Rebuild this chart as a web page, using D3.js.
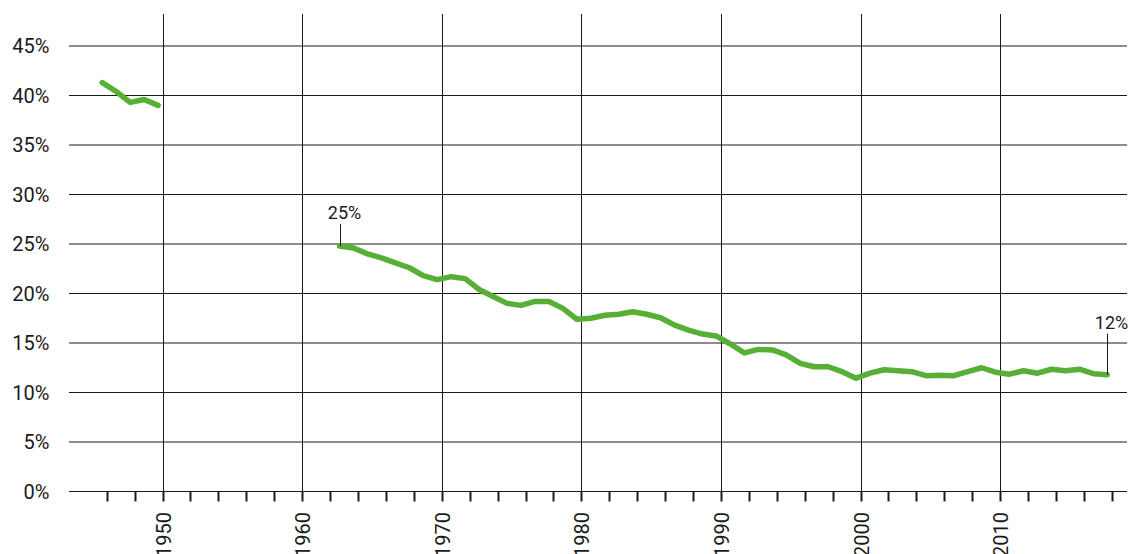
<!DOCTYPE html>
<html>
<head>
<meta charset="utf-8">
<script src="https://cdn.jsdelivr.net/npm/d3@7"></script>
<style>
  html, body { margin: 0; padding: 0; background: #fff; }
  svg { display: block; font-family: Roboto, "Noto Sans", sans-serif; }
</style>
</head>
<body>
<svg id="chart" width="1132" height="554"></svg>
<script>
// ---- data ----
const years1 = [1946, 1947, 1948, 1949, 1950];
const values1 = [41.3, 40.4, 39.3, 39.6, 39.0];

const years2 = [1963, 1964, 1965, 1966, 1967, 1968, 1969, 1970, 1971, 1972,
                1973, 1974, 1975, 1976, 1977, 1978, 1979, 1980, 1981, 1982,
                1983, 1984, 1985, 1986, 1987, 1988, 1989, 1990, 1991, 1992,
                1993, 1994, 1995, 1996, 1997, 1998, 1999, 2000, 2001, 2002,
                2003, 2004, 2005, 2006, 2007, 2008, 2009, 2010, 2011, 2012,
                2013, 2014, 2015, 2016, 2017, 2018];
const values2 = [24.8, 24.6, 24.0, 23.6, 23.1, 22.6, 21.8, 21.4, 21.7, 21.5,
                 20.4, 19.7, 19.0, 18.8, 19.2, 19.2, 18.5, 17.4, 17.5, 17.8,
                 17.9, 18.15, 17.9, 17.55, 16.8, 16.3, 15.9, 15.7, 14.9, 14.0,
                 14.35, 14.3, 13.8, 12.95, 12.6, 12.6, 12.1, 11.45, 11.95, 12.3,
                 12.2, 12.1, 11.7, 11.75, 11.7, 12.1, 12.5, 12.05, 11.85, 12.2,
                 11.95, 12.35, 12.2, 12.35, 11.9, 11.8];

const yTicks = [0, 5, 10, 15, 20, 25, 30, 35, 40, 45];
const decadeTicks = [1950, 1960, 1970, 1980, 1990, 2000, 2010];
const minorTicks = [1946, 1948, 1950, 1952, 1954, 1956, 1958, 1960, 1962, 1964,
                    1966, 1968, 1970, 1972, 1974, 1976, 1978, 1980, 1982, 1984,
                    1986, 1988, 1990, 1992, 1994, 1996, 1998, 2000, 2002, 2004,
                    2006, 2008, 2010, 2012, 2014, 2016, 2018];
const annotations = [
  { year: 1963, value: 24.8, label: "25%", lift: 22 },
  { year: 2018, value: 11.8, label: "12%", lift: 41 }
];

// ---- layout ----
const svg = d3.select("#chart");
const plotLeft = 69, plotRight = 1127, plotTop = 14, plotBottom = 491.5;
const pointShift = -0.25;

const x = d3.scaleLinear().domain([1943.37, 2019.16]).range([plotLeft, plotRight]);
const y = d3.scaleLinear().domain([0, 45]).range([plotBottom, 46]);

const ink = "#1a1a1a";
const green = "#57b035";

// horizontal grid
svg.append("g").selectAll("line").data(yTicks).join("line")
  .attr("x1", plotLeft).attr("x2", plotRight)
  .attr("y1", d => y(d)).attr("y2", d => y(d))
  .attr("stroke", ink).attr("stroke-width", 1);

// vertical decade grid
svg.append("g").selectAll("line").data(decadeTicks).join("line")
  .attr("x1", d => Math.round(x(d)) + 1.5).attr("x2", d => Math.round(x(d)) + 1.5)
  .attr("y1", plotTop).attr("y2", plotBottom)
  .attr("stroke", ink).attr("stroke-width", 1);

// minor ticks below axis
svg.append("g").selectAll("line").data(minorTicks).join("line")
  .attr("x1", d => Math.round(x(d)) + 1.5).attr("x2", d => Math.round(x(d)) + 1.5)
  .attr("y1", plotBottom).attr("y2", plotBottom + 10)
  .attr("stroke", ink).attr("stroke-width", 2);

// y labels
svg.append("g").selectAll("text").data(yTicks).join("text")
  .attr("x", 49.5).attr("y", d => y(d)).attr("dy", "0.36em")
  .attr("text-anchor", "end")
  .attr("font-size", 20).attr("fill", ink)
  .text(d => d + "%");

// x labels (rotated)
svg.append("g").selectAll("text").data(decadeTicks).join("text")
  .attr("transform", d => `translate(${Math.round(x(d)) + 1.5},512) rotate(-90)`)
  .attr("dy", "0.36em")
  .attr("text-anchor", "end")
  .attr("font-size", 20).attr("fill", ink)
  .text(d => d);

// lines
const line = d3.line()
  .x(d => x(d[0] + pointShift))
  .y(d => y(d[1]));

const seg1 = years1.map((yr, i) => [yr, values1[i]]);
const seg2 = years2.map((yr, i) => [yr, values2[i]]);

svg.append("g").selectAll("path").data([seg1, seg2]).join("path")
  .attr("d", line)
  .attr("fill", "none")
  .attr("stroke", green)
  .attr("stroke-width", 5.5)
  .attr("stroke-linejoin", "round")
  .attr("stroke-linecap", "round");

// annotations
const ann = svg.append("g");
annotations.forEach(a => {
  const ax = Math.round(x(a.year + pointShift)) + 0.5;
  const ay = y(a.value);
  ann.append("line")
    .attr("x1", ax).attr("x2", ax)
    .attr("y1", ay).attr("y2", ay - a.lift)
    .attr("stroke", ink).attr("stroke-width", 1);
  ann.append("text")
    .attr("x", ax + 4).attr("y", ay - a.lift - 5)
    .attr("text-anchor", "middle")
    .attr("font-size", 18).attr("fill", ink)
    .text(a.label);
});
</script>
</body>
</html>
